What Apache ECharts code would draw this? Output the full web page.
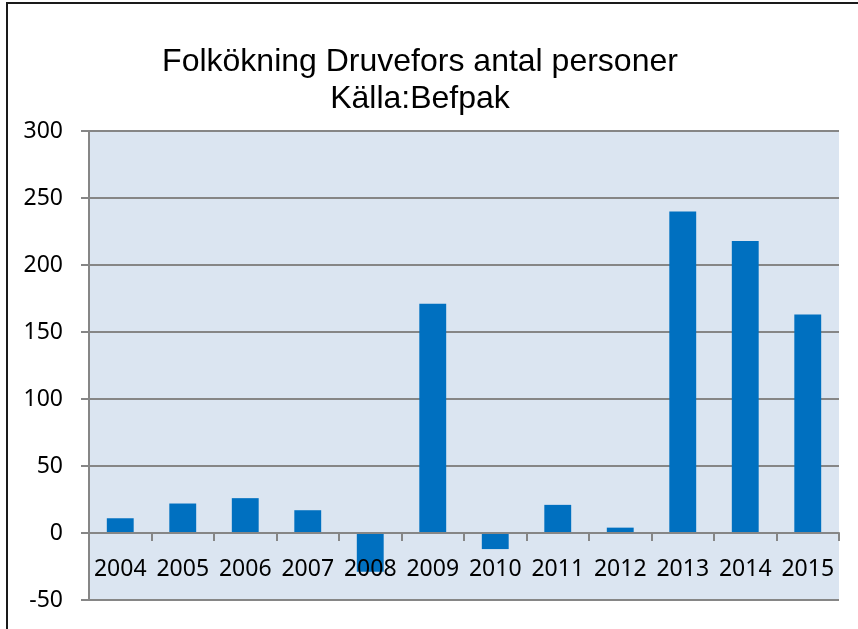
<!DOCTYPE html>
<html>
<head>
<meta charset="utf-8">
<script src="https://cdn.jsdelivr.net/npm/echarts@6/dist/echarts.min.js"></script>
<style>
  body { margin: 0; background: #fff; }
  #wrap { position: relative; width: 858px; height: 629px; overflow: hidden; }
  #frame { position: absolute; left: 6px; top: 2px; width: 900px; height: 700px;
           border-left: 2px solid #1a1a1a; border-top: 2px solid #1a1a1a; }
  #chart { position: absolute; left: 0; top: 0; width: 858px; height: 629px; }
</style>
</head>
<body>
<div id="wrap">
  <div id="frame"></div>
  <div id="chart"></div>
</div>
<script>
// år och folkökning (antal personer)
const years = ['2004','2005','2006','2007','2008','2009','2010','2011','2012','2013','2014','2015'];
const growth = [11, 22, 26, 17, -29, 171, -12, 21, 4, 240, 218, 163];
const yTicks = [-50, 0, 50, 100, 150, 200, 250, 300];

const chart = echarts.init(document.getElementById('chart'));
const option = {
    animation: false,
    title: {
        text: 'Folkökning Druvefors antal personer\nKälla:Befpak',
        left: 415,
        textAlign: 'center',
        top: 39,
        textStyle: {
            fontFamily: 'Liberation Sans',
            fontSize: 32,
            fontWeight: 'normal',
            color: '#000',
            lineHeight: 37
        }
    },
    grid: {
        left: 89,
        right: 19,
        top: 131,
        bottom: 29,
        outerBoundsMode: 'none',
        show: true,
        backgroundColor: '#DBE5F1',
        borderWidth: 0
    },
    xAxis: {
        type: 'category',
        data: years,
        z: 3,
        axisLine: { onZero: true, lineStyle: { color: '#868686', width: 2 } },
        axisTick: { show: true, length: 8, lineStyle: { color: '#868686', width: 2 } },
        axisLabel: {
            color: '#000',
            fontFamily: 'Noto Sans',
            fontSize: 23,
            interval: 0,
            hideOverlap: false,
            margin: -42
        }
    },
    yAxis: {
        type: 'value',
        min: yTicks[0],
        max: yTicks[yTicks.length - 1],
        interval: 50,
        axisLine: { show: true, lineStyle: { color: '#868686', width: 2 } },
        axisTick: { show: true, length: 8, lineStyle: { color: '#868686', width: 2 } },
        splitLine: { show: true, lineStyle: { color: '#868686', width: 2 } },
        axisLabel: {
            color: '#000',
            fontFamily: 'Noto Sans',
            fontSize: 23,
            margin: 26
        }
    },
    series: [{
        type: 'bar',
        data: growth,
        barWidth: '43%',
        itemStyle: { color: '#0070C0' }
    }]
};
chart.setOption(option);
</script>
</body>
</html>
